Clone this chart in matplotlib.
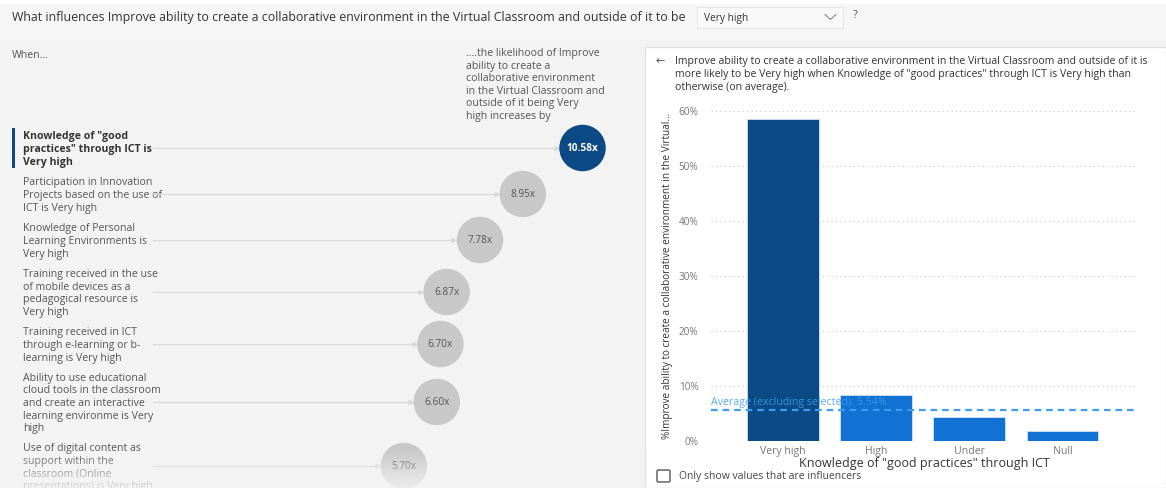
import matplotlib.pyplot as plt
import numpy as np
from matplotlib.patches import Rectangle, FancyBboxPatch
from matplotlib.colors import to_rgb

plt.rcParams['font.family'] = ['Open Sans', 'DejaVu Sans']

W, H = 1166, 488  # canvas size in pixels

question = ("What influences Improve ability to create a collaborative environment "
            "in the Virtual Classroom and outside of it to be")
target_value = "Very high"

influencers = [
    'Knowledge of "good\npractices" through ICT is\nVery high',
    'Participation in Innovation\nProjects based on the use of\nICT is Very high',
    'Knowledge of Personal\nLearning Environments is\nVery high',
    'Training received in the use\nof mobile devices as a\npedagogical resource is\nVery high',
    'Training received in ICT\nthrough e-learning or b-\nlearning is Very high',
    'Ability to use educational\ncloud tools in the classroom\nand create an interactive\nlearning environme is Very\nhigh',
    'Use of digital content as\nsupport within the\nclassroom (Online\npresentations) is Very high',
]
multipliers = [10.58, 8.95, 7.78, 6.87, 6.70, 6.60, 5.70]

levels = ["Very high", "High", "Under", "Null"]
level_share = [58.5, 8.25, 4.4, 1.8]   # % of "Very high" outcome per level
average_excluding = 5.54

detail_text = ('Improve ability to create a collaborative environment in the Virtual Classroom and outside of it is\n'
               'more likely to be Very high when Knowledge of "good practices" through ICT is Very high than\n'
               'otherwise (on average).')
y_title = "%Improve ability to create a collaborative environment in the Virtual..."
x_title = 'Knowledge of "good practices" through ICT'

DARK = '#0b4a84'
BLUE = '#1172d4'
BG = '#f3f3f3'
FS = 7.6


def fig_rect(x0, y0, x1, y1):
    # pixel box (top-left origin) -> figure fraction
    return [x0 / W, 1 - y1 / H, (x1 - x0) / W, (y1 - y0) / H]


fig = plt.figure(figsize=(W / 100, H / 100), dpi=100, facecolor=BG)

# ---- base canvas in pixel units ----
cv = fig.add_axes([0, 0, 1, 1], zorder=0)
cv.set_xlim(0, W)
cv.set_ylim(H, 0)
cv.axis('off')

cv.add_patch(Rectangle((0, 0), W, 40, facecolor='#f6f6f6', edgecolor='none'))
cv.add_patch(Rectangle((0, 0), W, 4, facecolor='white', edgecolor='none'))
cv.text(12, 18, question, fontsize=8.95, color='#333333', va='center')
cv.add_patch(Rectangle((697, 7), 146, 21, facecolor='#f9f9f9', edgecolor='#e6e6e6', lw=0.8))
cv.text(704, 18, target_value, fontsize=7.3, color='#333333', va='center')
cv.plot([825, 830.5, 836], [14.5, 19.5, 14.5], color='#888888', lw=0.8)
cv.text(853, 16, "?", fontsize=8, color='#555555', va='center')

# left column headers
cv.text(12, 55, "When...", fontsize=FS, color='#555555', va='center')
cv.text(466, 48, "....the likelihood of Improve\nability to create a\ncollaborative environment\n"
        "in the Virtual Classroom and\noutside of it being Very\nhigh increases by",
        fontsize=FS, color='#555555', va='top', linespacing=1.2)

# row positions from the number of label lines
n_lines = [lbl.count('\n') + 1 for lbl in influencers]
row_y = [148.0]
for a, b in zip(n_lines[:-1], n_lines[1:]):
    row_y.append(row_y[-1] + 6.0 * (a + b) + 10)

for i, (lbl, y) in enumerate(zip(influencers, row_y)):
    sel = i == 0
    cv.text(23, y + 1.5, lbl, fontsize=FS, va='center', linespacing=1.2,
            color='#333333' if sel else '#555555',
            fontweight='bold' if sel else 'normal')
    if sel:
        cv.add_patch(Rectangle((12, y - 20), 3, 40, facecolor=DARK, edgecolor='none'))

# right detail panel
cv.add_patch(Rectangle((645, 47), W - 645, H - 47, facecolor='white',
                       edgecolor='#e2e2e2', lw=1.0))
cv.text(655, 62, "\u2190", fontsize=8, color='#555555', va='center')
cv.text(675, 56, detail_text, fontsize=7.55, color='#333333', va='top', linespacing=1.25)
cv.add_patch(FancyBboxPatch((657, 470), 13, 12, boxstyle="round,pad=0,rounding_size=1.5",
                            facecolor='white', edgecolor='#555555', lw=1.0))
cv.text(679, 476, "Only show values that are influencers", fontsize=7.5,
        color='#444444', va='center')

# ---- key influencer bubbles, x in multiplier units ----
ax_b = fig.add_axes(fig_rect(153, 40, 640, H), zorder=1)
ax_b.set_xlim(-1.15, 12.15)
ax_b.set_ylim(H, 40)
ax_b.axis('off')
ax_b.patch.set_alpha(0)

gap = 0.70
for i, (v, y) in enumerate(zip(multipliers, row_y)):
    ax_b.plot([-1.15, v - gap], [y, y], color='#d8d8d8', lw=0.9, zorder=1)
    ax_b.plot([v - gap], [y], marker='>', ms=4, color='#d8d8d8', mec='none', zorder=1)
bubble_colors = [DARK] + ['#c8c8c8'] * (len(multipliers) - 1)
ax_b.scatter(multipliers, row_y, s=1120, c=bubble_colors, edgecolors='none', zorder=2)
for i, (v, y) in enumerate(zip(multipliers, row_y)):
    ax_b.text(v, y, f"{v:.2f}x", ha='center', va='center', fontsize=7.2,
              color='white' if i == 0 else '#555555',
              fontweight='bold' if i == 0 else 'normal', zorder=3)

# fade at the bottom of the scrolling list
ax_f = fig.add_axes(fig_rect(0, 448, 643, H), zorder=4)
ramp = np.linspace(0, 0.85, 60)[:, None]
rgba = np.zeros((60, 1, 4))
rgba[..., :3] = to_rgb(BG)
rgba[..., 3] = ramp
ax_f.imshow(rgba, aspect='auto', extent=(0, 1, 0, 1), origin='upper')
ax_f.axis('off')

# ---- column chart in the detail panel ----
ax = fig.add_axes(fig_rect(711, 110.7, 1137, 440.7), zorder=2)
ax.patch.set_alpha(0)
x = np.arange(len(levels))
ax.bar(x, level_share, width=0.77, color=[DARK] + [BLUE] * (len(levels) - 1),
       edgecolor='#cfe2f6', lw=0.6, zorder=2)
ax.axhline(average_excluding, color='#3d9ef0', lw=1.6, ls=(0, (3, 2.2)), zorder=3)
ax.text(-0.77, average_excluding + 0.45, f"Average (excluding selected): {average_excluding:.2f}%",
        fontsize=7.7, color='#3d9ef0', alpha=0.85, va='bottom', zorder=4)

ax.set_xlim(-0.77, 3.80)
ax.set_ylim(0, 60)
ax.set_yticks(range(0, 61, 10))
ax.set_yticklabels([f"{t}%" for t in range(0, 61, 10)])
ax.set_xticks(x)
ax.set_xticklabels(levels)
ax.tick_params(axis='y', length=0, pad=9, labelsize=7.2, labelcolor='#777777')
ax.tick_params(axis='x', length=0, pad=3.5, labelsize=7.6, labelcolor='#777777')
ax.yaxis.grid(True, ls=(0, (1, 3)), color='#c4c4c4', lw=0.8, zorder=0)
ax.set_axisbelow(True)
for s in ax.spines.values():
    s.set_visible(False)

ax.set_ylabel(y_title, fontsize=7.2, color='#333333')
ax.yaxis.set_label_coords(-(711 - 673) / 426, 0.5)
ax.set_xlabel(x_title, fontsize=9, color='#333333')
ax.xaxis.set_label_coords(0.5, -(457 - 440.7) / 330)

fig.savefig("out.png", dpi=100, facecolor=fig.get_facecolor())
